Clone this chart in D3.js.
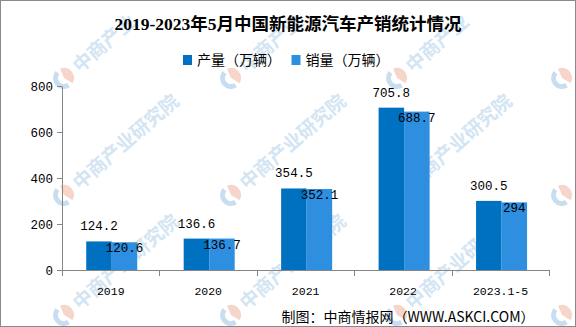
<!DOCTYPE html>
<html><head><meta charset="utf-8">
<script src="https://cdn.jsdelivr.net/npm/d3@7/dist/d3.min.js"></script>
<style>
html,body{margin:0;padding:0;background:#fff;}
svg{display:block;}
</style></head>
<body><svg id="chart" width="576" height="327"></svg>
<script>
const categories = ["2019", "2020", "2021", "2022", "2023.1-5"];
const seriesNames = ["产量（万辆）", "销量（万辆）"];
const production = [124.2, 136.6, 354.5, 705.8, 300.5];
const sales = [120.6, 136.7, 352.1, 688.7, 294];
const yTicks = [0, 200, 400, 600, 800];
const colors = ["#0070C0", "#2E8FE0"];
const title = "2019-2023年5月中国新能源汽车产销统计情况";
const source = "制图：中商情报网（WWW.ASKCI.COM）";
const watermarkText = "中商产业研究院";
const watermarkCols = [64, 231, 397, 562];
const watermarkRows = [78, 195, 315];

(function () {
const svg = d3.select("#chart");
const W = 576, H = 327;
const plotLeft = 62, plotRight = 549.3, plotTop = 86, plotBottom = 270;
const axisColor = "#868686";
const monoFont = "'Liberation Mono', 'DejaVu Sans Mono', monospace";
const cjkSans = "'Noto Sans CJK SC', 'Noto Sans', sans-serif";

// watermark layer (only the part of each stamp that lies inside the picture)
const wm = svg.append("g").attr("class", "watermark");
const ang = -41 * Math.PI / 180, wmSize = 19;
function fits(cx, cy, n) {
  const pts = [[15, -17], [15 + wmSize * n, -17], [15, 5], [15 + wmSize * n, 5]];
  return pts.every(([px, py]) => {
    const X = cx + px * Math.cos(ang) - py * Math.sin(ang);
    const Y = cy + px * Math.sin(ang) + py * Math.cos(ang);
    return X >= 1 && X <= W - 1 && Y >= 1 && Y <= H - 1;
  });
}
watermarkRows.forEach(ry => watermarkCols.forEach(cx => {
  const g = wm.append("g").attr("transform", `translate(${cx},${ry}) rotate(-41)`);
  g.append("path")
    .attr("d", d3.arc()({innerRadius: 6, outerRadius: 11, startAngle: Math.PI * 1.05, endAngle: Math.PI * 1.95}))
    .attr("fill", "#c8def0");
  g.append("path")
    .attr("d", d3.arc()({innerRadius: 0, outerRadius: 10, startAngle: Math.PI * 0.1, endAngle: Math.PI * 0.9}))
    .attr("fill", "#f6d6cb");
  let n = watermarkText.length;
  while (n > 0 && !fits(cx, ry, n)) n--;
  if (n > 0) {
    g.append("text")
      .attr("x", 15).attr("y", 7)
      .attr("font-family", cjkSans).attr("font-weight", "bold").attr("font-size", wmSize)
      .attr("fill", "#d3e5f3")
      .text(watermarkText.slice(0, n));
  }
}));

// border
svg.append("rect").attr("x", 0.5).attr("y", 0.5).attr("width", W - 1).attr("height", H - 1)
  .attr("fill", "none").attr("stroke", "#8a8a8a").attr("stroke-width", 1);

// scales
const x = d3.scaleBand().domain(categories).range([plotLeft, plotRight]).paddingInner(0).paddingOuter(0);
const xSub = d3.scaleBand().domain([0, 1]).range([0, x.bandwidth()]).paddingInner(0).paddingOuter(0.91);
const y = d3.scaleLinear().domain([0, 800]).range([plotBottom, plotTop]);

// bars
const data = categories.map((c, i) => ({c, vals: [production[i], sales[i]]}));
const groups = svg.append("g").selectAll("g").data(data).join("g")
  .attr("transform", d => `translate(${x(d.c) + 1},0)`);
groups.selectAll("rect").data(d => d.vals.map((v, k) => ({v, k}))).join("rect")
  .attr("x", d => xSub(d.k))
  .attr("width", xSub.bandwidth())
  .attr("y", d => y(d.v))
  .attr("height", d => y(0) - y(d.v))
  .attr("fill", d => colors[d.k]);

// y axis
const yAxis = svg.append("g").attr("transform", `translate(${plotLeft},0)`)
  .call(d3.axisLeft(y).tickValues(yTicks).tickSizeInner(5).tickSizeOuter(0).tickPadding(4).tickFormat(d3.format("d")));
yAxis.select(".domain").attr("stroke", axisColor);
yAxis.selectAll(".tick line").attr("stroke", axisColor);
yAxis.selectAll("text").attr("font-family", monoFont).attr("font-size", 12.5).attr("fill", "#000");

// x axis labels
const xAxis = svg.append("g").attr("transform", `translate(0,${plotBottom})`)
  .call(d3.axisBottom(x).tickSize(0).tickPadding(16.5));
xAxis.select(".domain").remove();
xAxis.selectAll("text").attr("font-family", monoFont).attr("font-size", 11.5).attr("fill", "#000");
// x axis line and boundary ticks
svg.append("line").attr("x1", plotLeft).attr("x2", plotRight).attr("y1", plotBottom + 0.5).attr("y2", plotBottom + 0.5)
  .attr("stroke", axisColor);
const bounds = categories.map(c => x(c)).concat([x(categories[categories.length - 1]) + x.bandwidth()]);
svg.append("g").selectAll("line").data(bounds).join("line")
  .attr("x1", d => Math.round(d) + 0.5).attr("x2", d => Math.round(d) + 0.5)
  .attr("y1", plotBottom).attr("y2", plotBottom + 6)
  .attr("stroke", axisColor);

// data labels
groups.append("text")
  .attr("x", d => xSub(0) + xSub.bandwidth() / 2)
  .attr("y", d => y(d.vals[0]) - 11)
  .attr("text-anchor", "middle")
  .attr("font-family", monoFont).attr("font-size", 12.5).attr("fill", "#000")
  .text(d => d.vals[0]);
groups.append("text")
  .attr("x", d => xSub(1) + xSub.bandwidth() / 2)
  .attr("y", d => y(d.vals[1]) + 10)
  .attr("text-anchor", "middle")
  .attr("font-family", monoFont).attr("font-size", 12.5).attr("fill", "#000")
  .text(d => d.vals[1]);

// title
svg.append("text").attr("x", 288).attr("y", 30).attr("text-anchor", "middle")
  .attr("font-family", "'Liberation Serif', 'Noto Sans CJK SC', serif")
  .attr("font-weight", "bold").attr("font-size", 17.5).attr("fill", "#000")
  .text(title);

// legend
const legendX = [183, 291.5];
const lg = svg.append("g").selectAll("g").data(seriesNames).join("g")
  .attr("transform", (d, i) => `translate(${legendX[i]},55)`);
lg.append("rect").attr("width", 9).attr("height", 10).attr("fill", (d, i) => colors[i]);
lg.append("text").attr("x", 14).attr("y", 10)
  .attr("font-family", cjkSans).attr("font-size", 14).attr("fill", "#000")
  .text(d => d);

// source
svg.append("text").attr("x", 534.5).attr("y", 322).attr("text-anchor", "end")
  .attr("font-family", cjkSans).attr("font-size", 14).attr("fill", "#000")
  .text(source);
})();
</script>
</body></html>
